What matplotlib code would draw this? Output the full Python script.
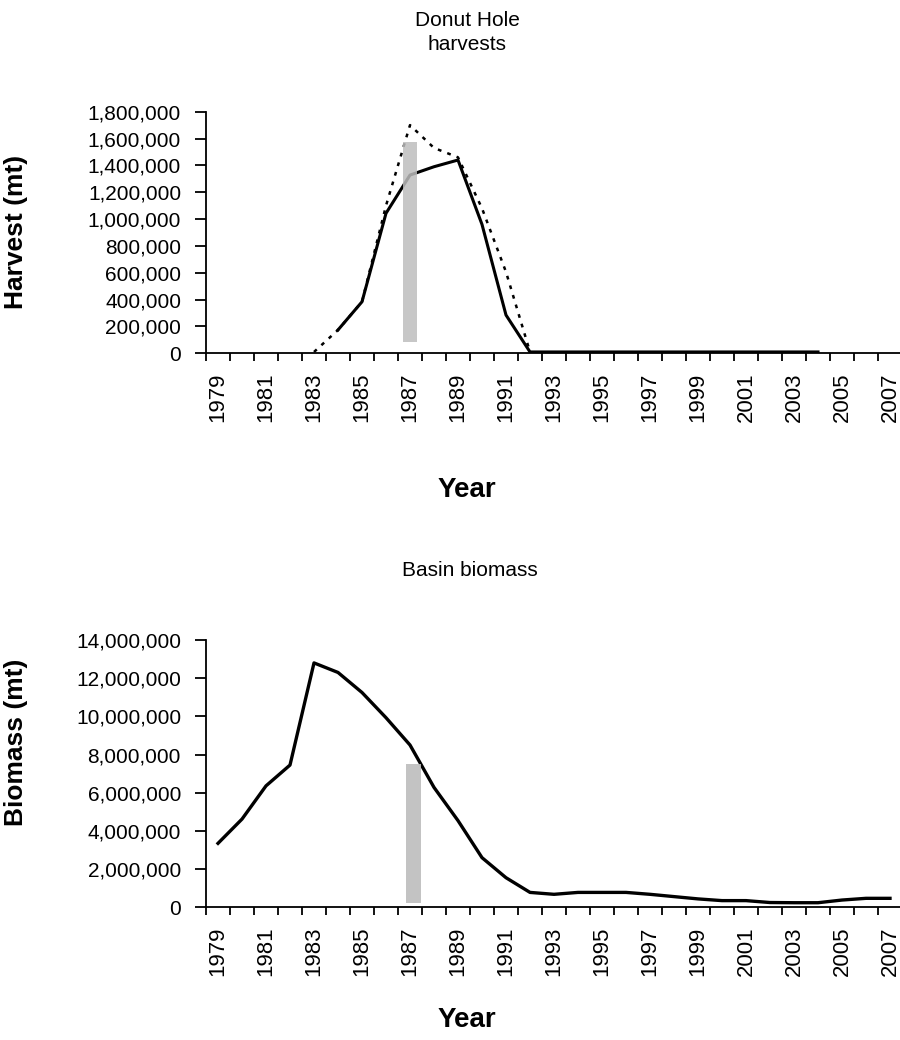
import matplotlib
matplotlib.use("Agg")
import matplotlib.pyplot as plt
import numpy as np
from matplotlib.ticker import FuncFormatter, FixedLocator

plt.rcParams['font.family'] = ['Liberation Sans', 'DejaVu Sans']

years = list(range(1979, 2008))

harvest_solid = [None, None, None, None, None,
                 174000, 384000, 1043000, 1328000, 1390000, 1440000, 960000, 285000, 10000,
                 10000, 10000, 10000, 10000, 10000, 10000, 10000, 10000, 10000, 10000, 10000, 10000,
                 None, None, None]
harvest_dotted = [None, None, None, None,
                  10000, 174000, 384000, 1100000, 1700000, 1530000, 1460000, 1080000, 606000, 10000,
                  None, None, None, None, None, None, None, None, None, None, None, None, None, None, None]
biomass = [3350000, 4620000, 6360000, 7450000, 12800000, 12300000, 11250000, 9930000, 8500000,
           6280000, 4540000, 2600000, 1550000, 780000, 680000, 780000, 780000, 780000, 680000,
           560000, 440000, 350000, 350000, 250000, 240000, 240000, 380000, 470000, 470000]

# grey marker bars (year position, bottom, top)
harvest_bar = (1987, 86000, 1576000)
biomass_bar = (1987.15, 240000, 7500000)

W, H = 900, 1040
fig = plt.figure(figsize=(W / 100, H / 100), dpi=100)

def to_arr(v):
    return np.array([np.nan if x is None else x for x in v], dtype=float)

idx = np.arange(len(years))

def style_axes(ax, ymax, ystep):
    ax.set_xlim(-0.5, len(years) - 0.5)
    ax.set_ylim(0, ymax)
    for s in ['top', 'right']:
        ax.spines[s].set_visible(False)
    for s in ['left', 'bottom']:
        ax.spines[s].set_linewidth(1.3)
        ax.spines[s].set_color('black')
    ax.yaxis.set_major_locator(FixedLocator(np.arange(0, ymax + 1, ystep)))
    ax.yaxis.set_major_formatter(FuncFormatter(lambda v, p: f"{int(v):,}"))
    ax.tick_params(axis='y', direction='out', length=8, width=1.3, pad=10, labelsize=15)
    # labels at category centres, tick marks at category boundaries
    ax.set_xticks(idx[::2])
    ax.set_xticklabels([str(y) for y in years[::2]], rotation=90)
    ax.tick_params(axis='x', which='major', length=0, pad=14, labelsize=16)
    ax.set_xticks(np.arange(-0.5, len(years) + 0.5, 1), minor=True)
    ax.tick_params(axis='x', which='minor', direction='out', length=6, width=1.3)

# ---- top chart ----
ax1 = fig.add_axes([206 / W, 1 - 353.3 / H, 696 / W, 241.6 / H])
style_axes(ax1, 1800000, 200000)
ax1.plot(idx, to_arr(harvest_solid), color='black', lw=2.2, zorder=2)
ax1.plot(idx, to_arr(harvest_dotted), color='black', lw=1.8, ls=(4, (1.5, 2.5)), zorder=2)
bx = years.index(1987) + (harvest_bar[0] - 1987)
ax1.bar([bx], [harvest_bar[2] - harvest_bar[1]], bottom=[harvest_bar[1]], width=0.6,
        color='#bdbdbd', alpha=0.85, zorder=3)
ax1.set_ylabel('Harvest (mt)', fontsize=19, fontweight='bold')
ax1.yaxis.set_label_coords((28 - 206) / 696, (353.3 - 232) / 241.6)

fig.text(467 / W, 1 - 21 / H, 'Donut Hole', ha='center', va='center', fontsize=15)
fig.text(467 / W, 1 - 44 / H, 'harvests', ha='center', va='center', fontsize=15)
fig.text(467 / W, 1 - 490 / H, 'Year', ha='center', va='center', fontsize=20, fontweight='bold')

# ---- bottom chart ----
ax2 = fig.add_axes([206 / W, 1 - 907.3 / H, 696 / W, 267.3 / H])
style_axes(ax2, 14000000, 2000000)
ax2.plot(idx, to_arr(biomass), color='black', lw=2.4, zorder=2)
bx2 = years.index(1987) + (biomass_bar[0] - 1987)
ax2.bar([bx2], [biomass_bar[2] - biomass_bar[1]], bottom=[biomass_bar[1]], width=0.6,
        color='#bdbdbd', alpha=0.9, zorder=3)
ax2.set_ylabel('Biomass (mt)', fontsize=19, fontweight='bold')
ax2.yaxis.set_label_coords((28 - 206) / 696, (907.3 - 742) / 267.3)

fig.text(470 / W, 1 - 571 / H, 'Basin biomass', ha='center', va='center', fontsize=15)
fig.text(467 / W, 1 - 1020 / H, 'Year', ha='center', va='center', fontsize=20, fontweight='bold')

fig.savefig('out.png', dpi=100, facecolor='white')
